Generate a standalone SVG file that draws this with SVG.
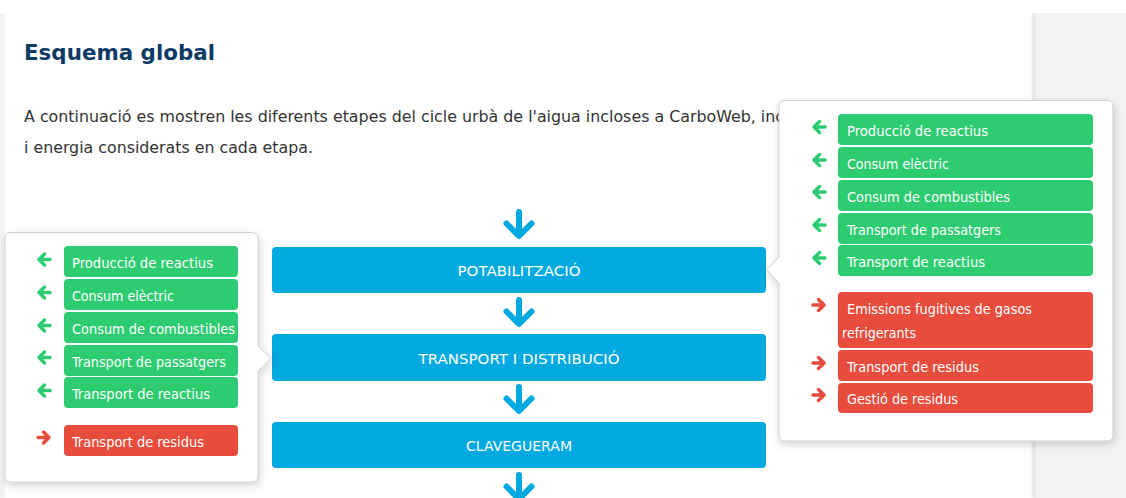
<svg xmlns="http://www.w3.org/2000/svg" width="1126" height="498" viewBox="0 0 1126 498">
<defs>
<style>
.page{fill:#ffffff}
.side{fill:#f4f3f1}
.title{font-family:"DejaVu Sans",Verdana,sans-serif;font-weight:bold;font-size:22px;fill:#0d3b66}
.body{font-family:"DejaVu Sans",Verdana,sans-serif;font-size:15.5px;fill:#333333}
.pop{fill:#ffffff;stroke:#cfcfcf;stroke-width:1}
.green{fill:#2ecc71}
.red{fill:#e74c3c}
.blue{fill:#00a9e0}
.lbl{font-family:"DejaVu Sans Condensed","DejaVu Sans",sans-serif;font-size:14px;fill:#ffffff}
.stage{font-family:"DejaVu Sans",Verdana,sans-serif;font-size:14.5px;fill:#ffffff;text-anchor:middle}
.ga{fill:none;stroke:#2ecc71;stroke-width:3.5;stroke-linecap:round;stroke-linejoin:round}
.ra{fill:none;stroke:#e74c3c;stroke-width:3.5;stroke-linecap:round;stroke-linejoin:round}
.down{fill:none;stroke:#00a9e0;stroke-width:6;stroke-linecap:round;stroke-linejoin:round}
</style>
<filter id="sh" x="-10%" y="-10%" width="125%" height="125%">
<feDropShadow dx="1" dy="3" stdDeviation="4" flood-color="#000000" flood-opacity="0.18"/>
</filter>
<filter id="edge" x="-50%" y="0" width="200%" height="100%">
<feGaussianBlur stdDeviation="1.2"/>
</filter>
</defs>

<rect class="page" x="0" y="0" width="1126" height="498"/>
<rect class="side" x="0" y="13" width="5" height="485"/>
<rect class="side" x="1034" y="13" width="92" height="485"/>
<rect x="1032.5" y="13" width="2" height="485" fill="#d9d8d6" filter="url(#edge)"/>

<g id="header">
<text class="title" x="24" y="60" textLength="191" lengthAdjust="spacingAndGlyphs">Esquema global</text>
<text class="body" x="24" y="122" textLength="760" lengthAdjust="spacingAndGlyphs">A continuació es mostren les diferents etapes del cicle urbà de l'aigua incloses a CarboWeb, inc</text>
<text class="body" x="24" y="153" textLength="289" lengthAdjust="spacingAndGlyphs">i energia considerats en cada etapa.</text>
</g>

<g id="connectors">
<path class="down" d="M519 212 V235 M506.5 223.5 L519 236 L531.5 223.5"/>
<path class="down" d="M519 300 V323 M506.5 311.5 L519 324 L531.5 311.5"/>
<path class="down" d="M519 387 V410 M506.5 398.5 L519 411 L531.5 398.5"/>
<path class="down" d="M519 475 V498 M506.5 486.5 L519 499 L531.5 486.5"/>
</g>

<g id="stage-potabilitzacio">
<rect class="blue" x="272" y="247" width="494" height="46" rx="4"/>
<text class="stage" x="519" y="276" textLength="123" lengthAdjust="spacingAndGlyphs">POTABILITZACIÓ</text>
</g>
<g id="stage-transport">
<rect class="blue" x="272" y="334" width="494" height="47" rx="4"/>
<text class="stage" x="519" y="364" textLength="201" lengthAdjust="spacingAndGlyphs">TRANSPORT I DISTRIBUCIÓ</text>
</g>
<g id="stage-clavegueram">
<rect class="blue" x="272" y="422" width="494" height="46" rx="4"/>
<text class="stage" x="519" y="451" textLength="106" lengthAdjust="spacingAndGlyphs">CLAVEGUERAM</text>
</g>

<g id="popover-left">
<g filter="url(#sh)">
<path class="pop" d="M11 232.5 H252 Q258 232.5 258 238.5 V346 L271 358.5 L258 371 V476 Q258 482 252 482 H11 Q5 482 5 476 V238.5 Q5 232.5 11 232.5 Z"/>
</g>
<path class="ga" d="M50 259.5 H39 M44.5 254 L39 259.5 L44.5 265"/>
<rect class="green" x="64" y="246" width="174" height="31" rx="4"/>
<text class="lbl" x="72" y="268" textLength="141" lengthAdjust="spacingAndGlyphs">Producció de reactius</text>
<path class="ga" d="M50 292.5 H39 M44.5 287 L39 292.5 L44.5 298"/>
<rect class="green" x="64" y="279" width="174" height="31" rx="4"/>
<text class="lbl" x="72" y="301" textLength="102" lengthAdjust="spacingAndGlyphs">Consum elèctric</text>
<path class="ga" d="M50 325.5 H39 M44.5 320 L39 325.5 L44.5 331"/>
<rect class="green" x="64" y="312" width="174" height="31" rx="4"/>
<text class="lbl" x="72" y="334" textLength="163" lengthAdjust="spacingAndGlyphs">Consum de combustibles</text>
<path class="ga" d="M50 357.5 H39 M44.5 352 L39 357.5 L44.5 363"/>
<rect class="green" x="64" y="345" width="174" height="31" rx="4"/>
<text class="lbl" x="72" y="367" textLength="154" lengthAdjust="spacingAndGlyphs">Transport de passatgers</text>
<path class="ga" d="M50 390.5 H39 M44.5 385 L39 390.5 L44.5 396"/>
<rect class="green" x="64" y="377" width="174" height="31" rx="4"/>
<text class="lbl" x="72" y="399" textLength="138" lengthAdjust="spacingAndGlyphs">Transport de reactius</text>
<path class="ra" d="M38 437.5 H49 M43.5 432 L49 437.5 L43.5 443"/>
<rect class="red" x="64" y="425" width="174" height="31" rx="4"/>
<text class="lbl" x="72" y="447" textLength="132" lengthAdjust="spacingAndGlyphs">Transport de residus</text>
</g>

<g id="popover-right">
<g filter="url(#sh)">
<path class="pop" d="M785 100.5 H1107 Q1113 100.5 1113 106.5 V435 Q1113 441 1107 441 H785 Q779 441 779 435 V283 L767 270 L779 257 V106.5 Q779 100.5 785 100.5 Z"/>
</g>
<path class="ga" d="M825 127 H814 M819.5 121.5 L814 127 L819.5 132.5"/>
<rect class="green" x="838" y="114" width="255" height="31" rx="4"/>
<text class="lbl" x="847" y="135.5" textLength="141" lengthAdjust="spacingAndGlyphs">Producció de reactius</text>
<path class="ga" d="M825 160 H814 M819.5 154.5 L814 160 L819.5 165.5"/>
<rect class="green" x="838" y="147" width="255" height="31" rx="4"/>
<text class="lbl" x="847" y="168.5" textLength="102" lengthAdjust="spacingAndGlyphs">Consum elèctric</text>
<path class="ga" d="M825 192 H814 M819.5 186.5 L814 192 L819.5 197.5"/>
<rect class="green" x="838" y="180" width="255" height="31" rx="4"/>
<text class="lbl" x="847" y="201.5" textLength="163" lengthAdjust="spacingAndGlyphs">Consum de combustibles</text>
<path class="ga" d="M825 225 H814 M819.5 219.5 L814 225 L819.5 230.5"/>
<rect class="green" x="838" y="213" width="255" height="31" rx="4"/>
<text class="lbl" x="847" y="234.5" textLength="154" lengthAdjust="spacingAndGlyphs">Transport de passatgers</text>
<path class="ga" d="M825 258 H814 M819.5 252.5 L814 258 L819.5 263.5"/>
<rect class="green" x="838" y="245" width="255" height="31" rx="4"/>
<text class="lbl" x="847" y="266.5" textLength="138" lengthAdjust="spacingAndGlyphs">Transport de reactius</text>
<path class="ra" d="M813 305 H824 M818.5 299.5 L824 305 L818.5 310.5"/>
<rect class="red" x="838" y="292" width="255" height="56" rx="4"/>
<text class="lbl" x="847" y="314" textLength="185" lengthAdjust="spacingAndGlyphs">Emissions fugitives de gasos</text>
<text class="lbl" x="842" y="338" textLength="74" lengthAdjust="spacingAndGlyphs">refrigerants</text>
<path class="ra" d="M813 363 H824 M818.5 357.5 L824 363 L818.5 368.5"/>
<rect class="red" x="838" y="350" width="255" height="31" rx="4"/>
<text class="lbl" x="847" y="371.5" textLength="132" lengthAdjust="spacingAndGlyphs">Transport de residus</text>
<path class="ra" d="M813 395 H824 M818.5 389.5 L824 395 L818.5 400.5"/>
<rect class="red" x="838" y="383" width="255" height="30" rx="4"/>
<text class="lbl" x="847" y="404" textLength="111" lengthAdjust="spacingAndGlyphs">Gestió de residus</text>
</g>
</svg>
